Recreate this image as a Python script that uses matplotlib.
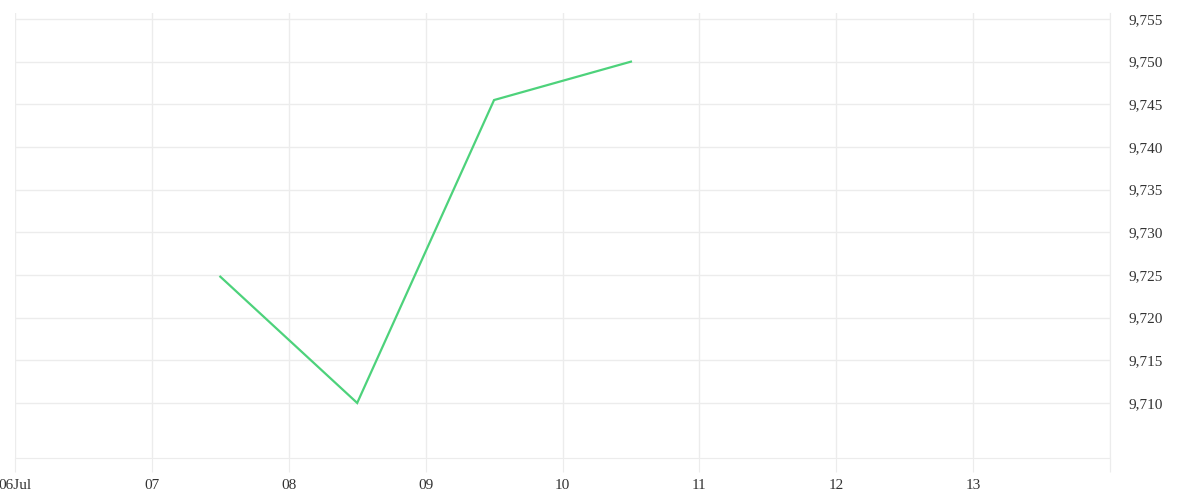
import matplotlib.pyplot as plt
from matplotlib.ticker import FuncFormatter

# data (x in days after 06 Jul)
dayPos = [1.5, 2.5, 3.5, 4.5]
rate = [9.7248, 9.7100, 9.7455, 9.7500]

tickPos = [0, 1, 2, 3, 4, 5, 6, 7, 8]
tickLabels = ["06Jul", "07", "08", "09", "10", "11", "12", "13", ""]
yTicks = [9.710, 9.715, 9.720, 9.725, 9.730, 9.735, 9.740, 9.745, 9.750, 9.755]

plt.rcParams['font.family'] = ['Liberation Serif', 'DejaVu Serif']
gridCol = "#ececec"

def fmtRate(v, p):
    whole, frac = "{:.3f}".format(v).split(".")
    return whole + "," + frac

fig = plt.figure(figsize=(12, 5), dpi=100)
ax = fig.add_axes([15/1200, 42/500, 1095/1200, 445/500])

ax.plot(dayPos, rate, color="#4dd27b", linewidth=1.6, solid_joinstyle="miter")

ax.set_xlim(0, 8)
ax.set_ylim(9.70355, 9.7557)
ax.set_xticks(tickPos)
ax.set_xticklabels(tickLabels)
ax.set_yticks(yTicks)
ax.yaxis.set_major_formatter(FuncFormatter(fmtRate))
ax.yaxis.tick_right()

ax.grid(True, color=gridCol, linewidth=1)
for s in ["top", "left"]:
    ax.spines[s].set_visible(False)
ax.spines["bottom"].set_color(gridCol)
ax.spines["right"].set_color(gridCol)
ax.spines["right"].set_bounds(9.70355 - 0.0012, 9.7557)

ax.tick_params(axis="x", length=10, color=gridCol, labelsize=11, labelcolor="#333333", pad=5)
ax.tick_params(axis="y", length=0, labelsize=11, labelcolor="#333333", pad=13)
for lbl in ax.get_yticklabels():
    lbl.set_horizontalalignment("left")

fig.savefig("out.png", dpi=100)
